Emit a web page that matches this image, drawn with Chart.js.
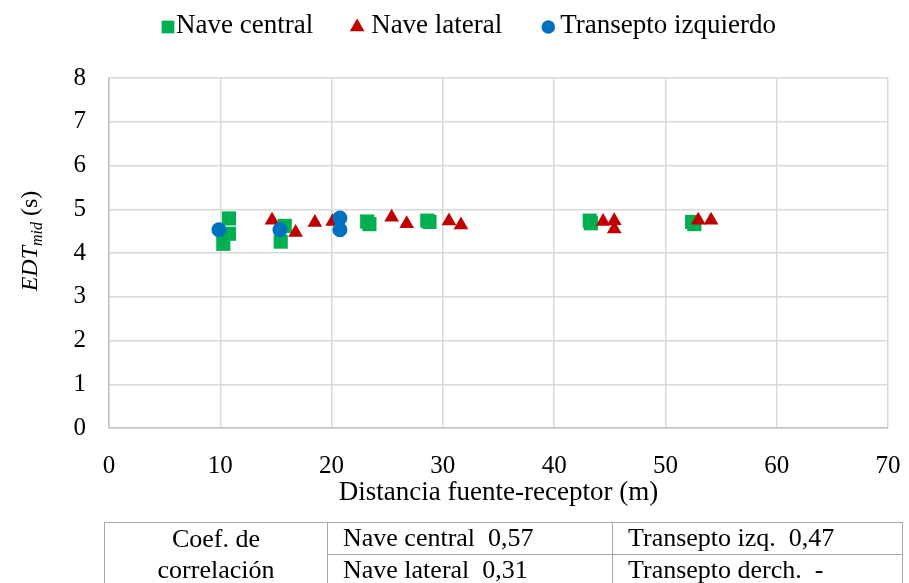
<!DOCTYPE html>
<html>
<head>
<meta charset="utf-8">
<script src="https://cdn.jsdelivr.net/npm/chart.js@4.4.1/dist/chart.umd.min.js"></script>
<style>
  body { margin: 0; background: #fff; }
  #wrap { position: relative; width: 909px; height: 583px; overflow: hidden; }
  #chart-edt { position: absolute; left: 0; top: 0; }
  #coef {
    position: absolute; left: 104px; top: 522px;
    border-collapse: collapse;
    font-family: "Liberation Serif", "Times New Roman", serif;
    font-size: 26px; color: #000;
  }
  #coef td {
    border: 1.5px solid #a6a6a6; height: 30px; padding: 0 0 0 15px;
    white-space: pre; line-height: 30px;
  }
  #coef td.head { text-align: center; padding: 0; width: 222px; line-height: 31px; }
  #coef td.c1 { width: 269px; }
  #coef td.c2 { width: 274px; }
</style>
</head>
<body>
<div id="wrap">
  <canvas id="chart-edt" width="909" height="583"></canvas>
  <table id="coef"></table>
</div>
<script>
const seriesNames = ["Nave central", "Nave lateral", "Transepto izquierdo"];

// distancia (m) / EDTmid (s)
const centralX = [10.78, 10.78, 10.27, 15.79, 15.43, 23.2, 23.4, 28.6, 28.8, 43.2, 43.3, 52.4, 52.6];
const centralY = [4.79, 4.44, 4.21, 4.62, 4.26, 4.72, 4.66, 4.74, 4.71, 4.74, 4.68, 4.71, 4.66];

const lateralX = [14.65, 16.77, 18.5, 20.1, 25.4, 26.75, 30.55, 31.63, 44.4, 45.4, 45.4, 52.95, 54.1];
const lateralY = [4.75, 4.47, 4.7, 4.72, 4.82, 4.67, 4.73, 4.64, 4.72, 4.74, 4.55, 4.75, 4.75];

const transeptoX = [9.88, 15.36, 20.75, 20.75];
const transeptoY = [4.53, 4.53, 4.8, 4.53];

const xTicks = [0, 10, 20, 30, 40, 50, 60, 70];
const yTicks = [0, 1, 2, 3, 4, 5, 6, 7, 8];

const corrHead = ["Coef. de", "correlación"];
const corrNames = ["Nave central", "Transepto izq.", "Nave lateral", "Transepto derch."];
const corrValues = ["0,57", "0,47", "0,31", "-"];

const colors = ["#00b050", "#c00000", "#0070c0"];
const styles = ["rect", "triangle", "circle"];
const radii = [10, 8.5, 7.5];
const legendRadii = [9, 8.5, 6.8];
const legendGap = [8, 14, 12];

const toPoints = (xs, ys) => xs.map((x, i) => ({ x: x, y: ys[i] }));

const FONT = "'Liberation Serif', 'Times New Roman', serif";

// correlation table under the plot
const table = document.getElementById("coef");
for (let r = 0; r < 2; r++) {
	const tr = document.createElement("tr");
	if (r === 0) {
		const head = document.createElement("td");
		head.rowSpan = 2;
		head.className = "head";
		head.innerHTML = corrHead.join("<br>");
		tr.appendChild(head);
	}
	for (let c = 0; c < 2; c++) {
		const k = r * 2 + c;
		const td = document.createElement("td");
		td.className = "c" + (c + 1);
		td.textContent = corrNames[k] + "  " + corrValues[k];
		tr.appendChild(td);
	}
	table.appendChild(tr);
}

function drawMarker(ctx, style, x, y, r) {
	ctx.beginPath();
	if (style === "rect") {
		const s = r / Math.SQRT2;
		ctx.rect(x - s, y - s, 2 * s, 2 * s);
	} else if (style === "triangle") {
		ctx.moveTo(x, y - r);
		ctx.lineTo(x + r * Math.sin(Math.PI / 3), y + r / 2);
		ctx.lineTo(x - r * Math.sin(Math.PI / 3), y + r / 2);
		ctx.closePath();
	} else {
		ctx.arc(x, y, r, 0, Math.PI * 2);
	}
	ctx.fill();
}

// legend row across the top
const topLegend = {
	id: "topLegend",
	afterDraw(chart) {
		const ctx = chart.ctx;
		ctx.save();
		ctx.font = "27px " + FONT;
		ctx.textBaseline = "middle";
		const step = 58;
		const items = chart.data.datasets.map((ds, i) => ({
			text: ds.label,
			w: ctx.measureText(ds.label).width,
			i: i,
		}));
		const total = items.reduce((s, it) => s + it.w, 0) + step * (items.length - 1);
		let x = 476 - total / 2;
		const y = 26;
		items.forEach((it) => {
			ctx.fillStyle = colors[it.i];
			drawMarker(ctx, styles[it.i], x - legendGap[it.i], y + 1, legendRadii[it.i]);
			ctx.fillStyle = "#000";
			ctx.fillText(it.text, x, y);
			x += it.w + step;
		});
		ctx.restore();
	},
};

// rotated y title: EDT with "mid" subscript
const yTitle = {
	id: "yTitle",
	afterDraw(chart) {
		const ctx = chart.ctx;
		const parts = [
			{ t: "EDT", f: "italic 24px " + FONT, dy: 0 },
			{ t: "mid", f: "italic 16px " + FONT, dy: 5 },
			{ t: " (s)", f: "24px " + FONT, dy: 0 },
		];
		ctx.save();
		ctx.translate(37, 241);
		ctx.rotate(-Math.PI / 2);
		ctx.fillStyle = "#000";
		ctx.textBaseline = "alphabetic";
		let total = 0;
		parts.forEach((p) => {
			ctx.font = p.f;
			p.w = ctx.measureText(p.t).width;
			total += p.w;
		});
		let x = -total / 2;
		parts.forEach((p) => {
			ctx.font = p.f;
			ctx.fillText(p.t, x, p.dy);
			x += p.w;
		});
		ctx.restore();
	},
};

const data = {
	datasets: [
		{ label: seriesNames[0], data: toPoints(centralX, centralY), order: 3 },
		{ label: seriesNames[1], data: toPoints(lateralX, lateralY), order: 2 },
		{ label: seriesNames[2], data: toPoints(transeptoX, transeptoY), order: 1 },
	].map((ds, i) => ({
		...ds,
		backgroundColor: colors[i],
		borderWidth: 0,
		pointStyle: styles[i],
		pointRadius: radii[i],
		pointHoverRadius: radii[i],
	})),
};

const options = {
	responsive: false,
	animation: false,
	events: [],
	layout: { padding: { top: 78, right: 21, bottom: 74, left: 0 } },
	plugins: {
		legend: { display: false },
		tooltip: { enabled: false },
	},
	scales: {
		x: {
			type: "linear",
			min: xTicks[0],
			max: xTicks[xTicks.length - 1],
			afterBuildTicks: (scale) => {
				scale.ticks = xTicks.map((v) => ({ value: v }));
			},
			afterFit: (scale) => {
				scale.height = 81;
			},
			// invisible tick marks push the labels down without widening the side padding
			grid: { color: "#d9d9d9", lineWidth: 1.5, drawTicks: true, tickLength: 23, tickColor: "rgba(0,0,0,0)" },
			border: { color: "#c4c4c4", width: 1.5 },
			ticks: { color: "#000", padding: 0, font: { family: FONT, size: 25 } },
			title: {
				display: true,
				text: "Distancia fuente-receptor (m)",
				color: "#000",
				padding: 0,
				font: { family: FONT, size: 27 },
			},
		},
		y: {
			type: "linear",
			min: yTicks[0],
			max: yTicks[yTicks.length - 1],
			afterBuildTicks: (scale) => {
				scale.ticks = yTicks.map((v) => ({ value: v }));
			},
			afterFit: (scale) => {
				scale.width = 109;
			},
			grid: { color: "#d9d9d9", lineWidth: 1.5, drawTicks: false },
			border: { color: "#c4c4c4", width: 1.5 },
			ticks: { color: "#000", padding: 23, font: { family: FONT, size: 25 } },
		},
	},
};

new Chart(document.getElementById("chart-edt"), {
	type: "scatter",
	data: data,
	options: options,
	plugins: [topLegend, yTitle],
});
</script>
</body>
</html>
